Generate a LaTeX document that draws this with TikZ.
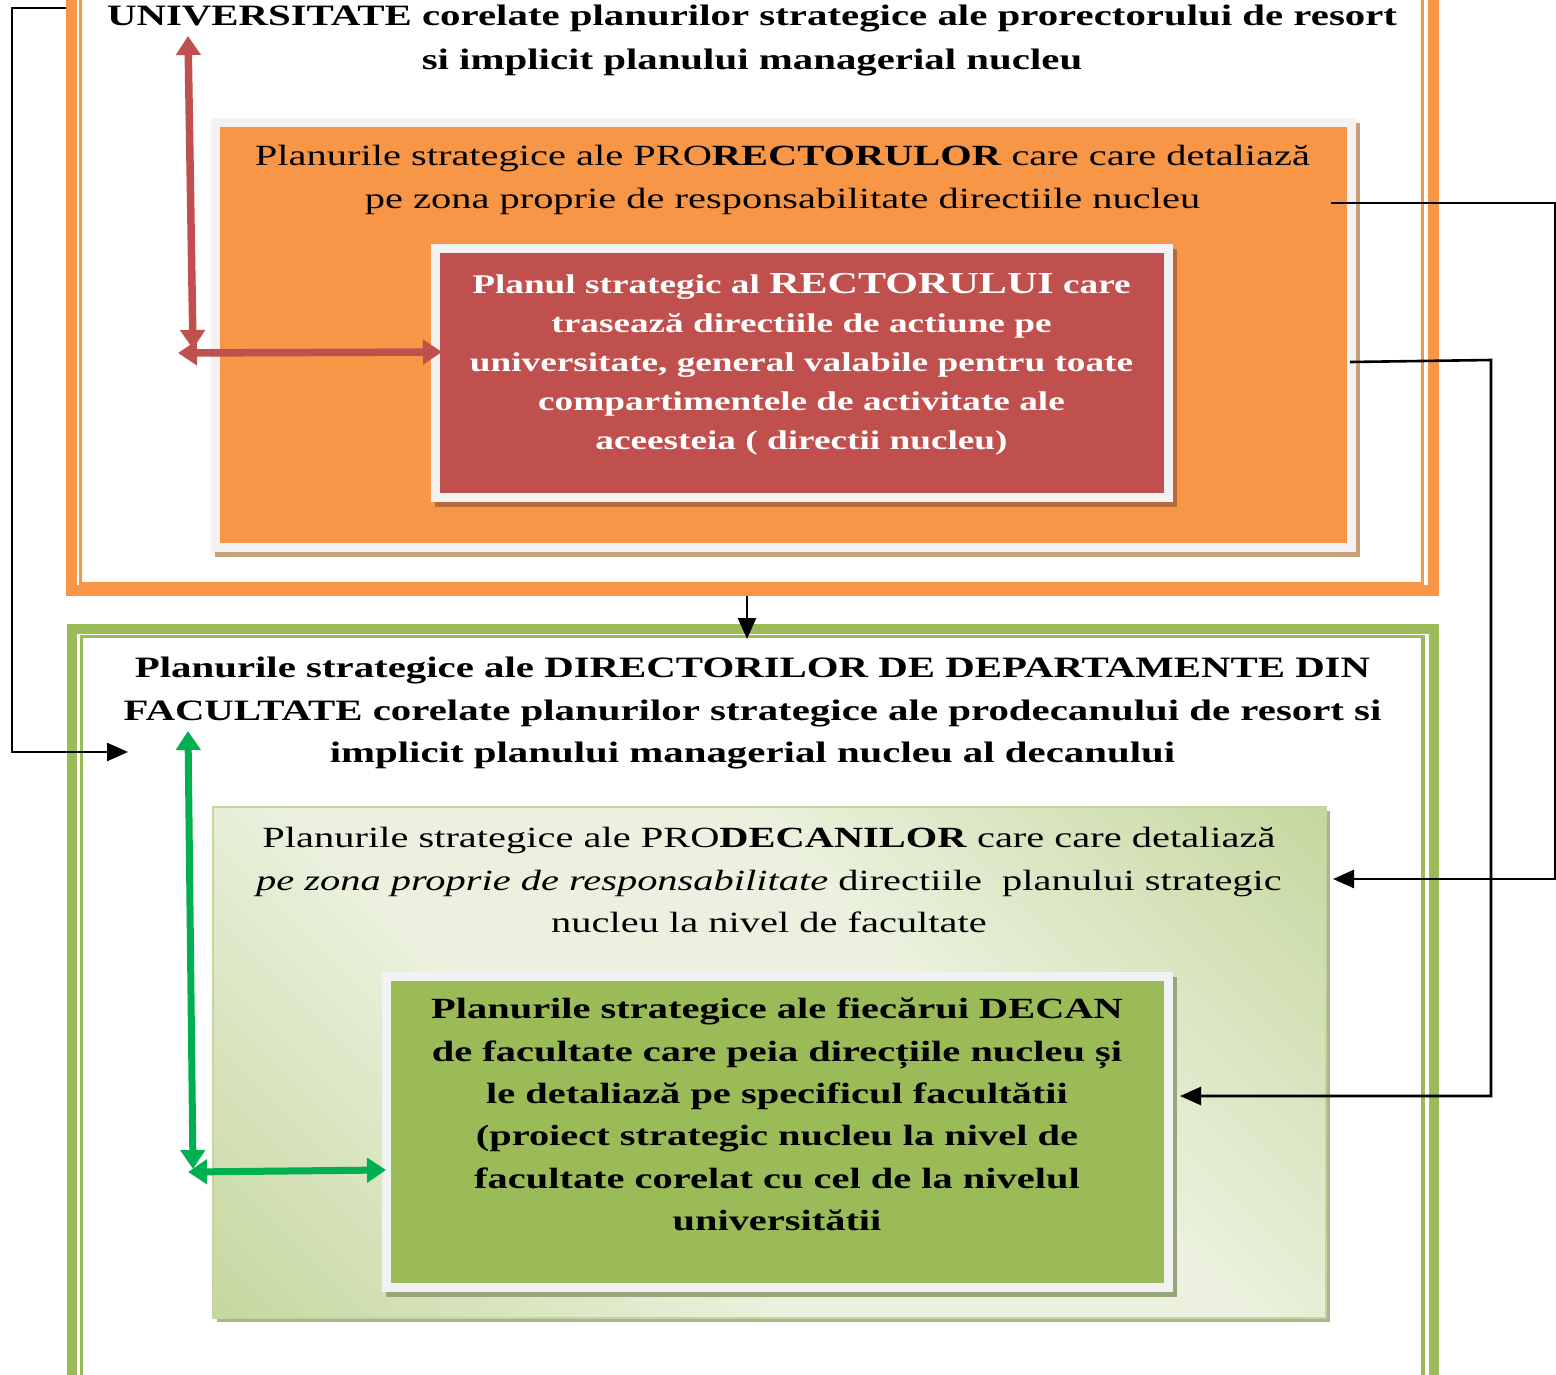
\documentclass[tikz,border=0pt]{standalone}
\usepackage{fontspec}
\setmainfont{Liberation Serif}[FakeStretch=1.38]
\usetikzlibrary{arrows.meta}
\definecolor{orng}{HTML}{F79646}
\definecolor{redbox}{HTML}{C0504D}
\definecolor{grn}{HTML}{9BBB59}
\definecolor{boxgray}{HTML}{F2F2F2}
\definecolor{shorng}{HTML}{C9A07C}
\definecolor{shred}{HTML}{B86A3C}
\definecolor{shgrn}{HTML}{98A67A}
\definecolor{shlgrn}{HTML}{A9B48F}
\definecolor{lgdark}{HTML}{C3D69B}
\definecolor{lglight}{HTML}{EBF1DE}
\definecolor{arrgrn}{HTML}{00B050}
\pgfdeclarehorizontalshading{lgshade}{100bp}{color(0bp)=(lgdark); color(13bp)=(lgdark); color(40bp)=(lglight); color(60bp)=(lglight); color(87bp)=(lgdark); color(100bp)=(lgdark)}
\begin{document}
\begin{tikzpicture}[x=1pt,y=-1pt,
  txt/.style={inner sep=0pt, align=center, font=\fontsize{29.3}{42.5}\selectfont},
  boldtxt/.style={txt, font=\fontsize{29.6}{42.5}\selectfont\bfseries},
  boxnode/.style={draw=boxgray, line width=9pt, inner sep=0pt, outer sep=0pt},
  hardshadow/.style={preaction={draw=#1, fill=#1, line width=9pt, transform canvas={xshift=4pt,yshift=-5pt}}},
  conn/.style={draw=black, line width=2.6pt, -{Triangle[length=21pt,width=18pt]}},
  redarr/.style={draw=redbox, line width=7.5pt, {Triangle[length=19pt,width=24pt]}-{Triangle[length=19pt,width=24pt]}},
  grnarr/.style={draw=arrgrn, line width=7pt, {Triangle[length=19pt,width=24pt]}-{Triangle[length=19pt,width=24pt]}}
]
\useasboundingbox (0,0) rectangle (1556,1375);
\clip (0,0) rectangle (1556,1375);
\fill[white] (0,0) rectangle (1556,1375);

% outer frames
\draw[orng, line width=11pt] (71.5,-50) rectangle (1433.5,590.5);
\draw[orng, line width=3.5pt] (80.7,-50) rectangle (1422.7,583.5);
\draw[grn, line width=10pt] (71.5,628.5) rectangle (1433.5,1450);
\draw[grn, line width=3.5pt] (81.3,636.7) rectangle (1423,1450);

% inner boxes
\node[boxnode, fill=orng, minimum width=1136pt, minimum height=424pt, hardshadow=shorng] (prorect) at (783,335) {};
\node[boxnode, fill=redbox, minimum width=733pt, minimum height=248.5pt, hardshadow=shred] (rect) at (801.5,373) {};
\node[draw=lgdark, line width=1.5pt, inner sep=0pt, outer sep=0pt, minimum width=1113pt, minimum height=511pt,
      preaction={fill=shlgrn, transform canvas={xshift=4pt,yshift=-4pt}},
      shading=lgshade, shading angle=45] (prodec) at (769.5,1062.5) {};
\node[boxnode, fill=grn, minimum width=782pt, minimum height=311.5pt, hardshadow=shgrn] (decan) at (777,1131.75) {};

% texts
\node[boldtxt, font=\fontsize{29.6}{44}\selectfont\bfseries] (ttop) at (752,40) {UNIVERSITATE corelate planurilor strategice ale prorectorului de resort\\si implicit planului managerial nucleu};
\node[txt, font=\fontsize{29.3}{43}\selectfont] (tprorect) at (782.5,179.5) {Planurile strategice ale PRO\textbf{RECTORULOR} care care detaliază\\pe zona proprie de responsabilitate directiile nucleu};
\node[txt, text=white, font=\fontsize{27}{39}\selectfont\bfseries] (trect) at (801.5,364) {Planul strategic al {\fontsize{30.5}{39}\selectfont RECTORULUI} care\\trasează directiile de actiune pe\\universitate, general valabile pentru toate\\compartimentele de activitate ale\\aceesteia ( directii nucleu)};
\node[boldtxt, font=\fontsize{29.6}{42.3}\selectfont\bfseries] (tdir) at (752.5,713) {Planurile strategice ale DIRECTORILOR DE DEPARTAMENTE DIN\\FACULTATE corelate planurilor strategice ale prodecanului de resort si\\implicit planului managerial nucleu al decanului};
\node[txt] (tprodec) at (769,880) {Planurile strategice ale PRO\textbf{DECANILOR} care care detaliază\\\textit{pe zona proprie de responsabilitate} directiile\ \ planului strategic\\nucleu la nivel de facultate};
\node[txt, font=\fontsize{29.3}{42.3}\selectfont\bfseries] (tdecan) at (777,1114.5) {Planurile strategice ale fiecărui DECAN\\de facultate care peia direcțiile nucleu și\\le detaliază pe specificul facultătii\\(proiect strategic nucleu la nivel de\\facultate corelat cu cel de la nivelul\\universitătii};

% red arrows
\coordinate (rvtop) at (188,36);
\coordinate (rvbot) at (193,349);
\coordinate (rhl) at (178,353);
\coordinate (rhr) at (442,352);
\draw[redarr] (rvtop) -- (rvbot);
\draw[redarr] (rhl) -- (rhr);

% green arrows
\coordinate (gvtop) at (188,731);
\coordinate (gvbot) at (193,1169);
\coordinate (ghl) at (188,1172);
\coordinate (ghr) at (386,1170);
\draw[grnarr] (gvtop) -- (gvbot);
\draw[grnarr] (ghl) -- (ghr);

% black connectors
\coordinate (c1s) at (66,8);
\coordinate (c1e) at (128,752);
\draw[conn] (c1s) -- (12,8) |- (c1e);
\coordinate (c2s) at (1331,203);
\coordinate (c2e) at (1333,879);
\draw[conn] (c2s) -- (1555,203) |- (c2e);
\coordinate (c3s) at (1350,362);
\coordinate (c3e) at (1180,1096);
\draw[conn] (c3s) -- (1491,360) |- (c3e);
\coordinate (c4s) at (747,596);
\coordinate (c4e) at (747,639);
\draw[conn] (c4s) -- (c4e);
\end{tikzpicture}
\end{document}
